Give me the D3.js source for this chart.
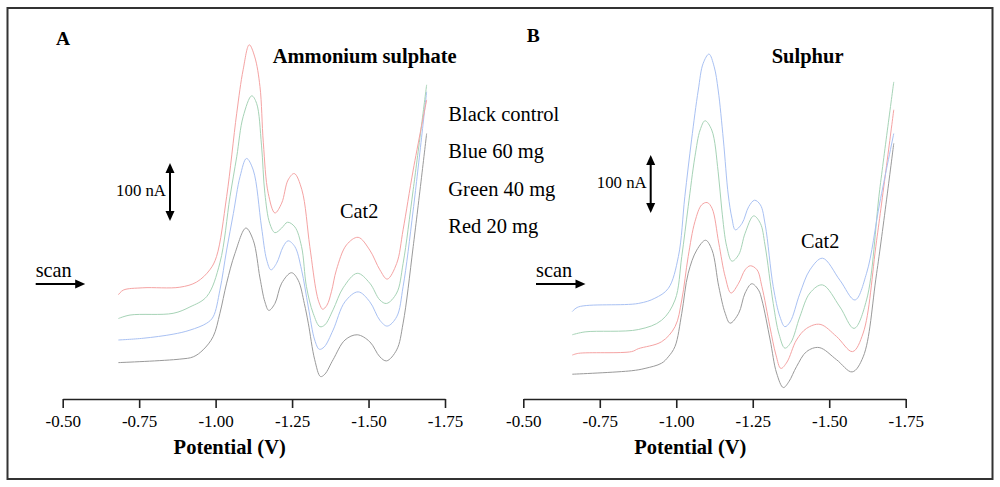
<!DOCTYPE html>
<html>
<head>
<meta charset="utf-8">
<script src="https://cdn.jsdelivr.net/npm/d3@7"></script>
<style>
  body { margin: 0; background: #fff; }
  svg { display: block; }
</style>
</head>
<body>
<svg id="chart" width="1000" height="487"></svg>
<script>
// potential (V), current (nA, arbitrary zero)
const aBlack = [[-0.682,61],[-0.883,67],[-0.927,71],[-0.959,83],[-0.992,106],[-1.014,146],[-1.036,198],[-1.063,249],[-1.099,293],[-1.123,272],[-1.145,207],[-1.161,166],[-1.174,151],[-1.194,163],[-1.216,198],[-1.248,216],[-1.270,203],[-1.290,163],[-1.303,129],[-1.324,66],[-1.343,37],[-1.357,41],[-1.384,66],[-1.423,100],[-1.463,109],[-1.504,97],[-1.537,71],[-1.559,64],[-1.592,83],[-1.613,129],[-1.646,261],[-1.690,456]];
const aBlue = [[-0.682,100],[-0.763,103],[-0.861,110],[-0.916,117],[-0.971,129],[-0.992,140],[-1.014,186],[-1.036,255],[-1.058,318],[-1.080,382],[-1.101,413],[-1.123,393],[-1.150,295],[-1.167,238],[-1.181,221],[-1.199,232],[-1.221,261],[-1.237,271],[-1.259,261],[-1.281,221],[-1.303,157],[-1.324,100],[-1.339,84],[-1.355,88],[-1.384,117],[-1.423,166],[-1.466,183],[-1.504,166],[-1.537,134],[-1.561,124],[-1.592,140],[-1.613,192],[-1.646,324],[-1.690,528]];
const aGreen = [[-0.682,137],[-0.720,143],[-0.861,146],[-0.916,157],[-0.971,175],[-1.014,233],[-1.047,347],[-1.069,416],[-1.090,485],[-1.118,521],[-1.134,508],[-1.150,436],[-1.161,353],[-1.177,301],[-1.194,285],[-1.216,293],[-1.235,303],[-1.259,295],[-1.281,261],[-1.297,192],[-1.319,146],[-1.341,123],[-1.357,126],[-1.384,152],[-1.417,190],[-1.463,215],[-1.504,198],[-1.537,169],[-1.559,163],[-1.592,181],[-1.613,232],[-1.646,359],[-1.690,540]];
const aRed = [[-0.682,178],[-0.698,186],[-0.762,190],[-0.883,191],[-0.938,200],[-0.981,221],[-1.003,244],[-1.036,347],[-1.069,491],[-1.090,566],[-1.110,609],[-1.128,588],[-1.145,537],[-1.156,440],[-1.172,353],[-1.194,319],[-1.216,336],[-1.237,376],[-1.257,387],[-1.282,359],[-1.308,261],[-1.330,181],[-1.340,162],[-1.350,153],[-1.364,160],[-1.379,184],[-1.395,221],[-1.428,264],[-1.466,277],[-1.504,255],[-1.537,221],[-1.561,205],[-1.592,232],[-1.613,290],[-1.646,393],[-1.690,514]];

const bBlack = [[-0.660,41],[-0.854,47],[-0.898,51],[-0.952,60],[-0.974,71],[-0.996,89],[-1.018,146],[-1.039,215],[-1.067,255],[-1.096,272],[-1.117,255],[-1.139,192],[-1.160,146],[-1.176,129],[-1.204,146],[-1.225,181],[-1.247,197],[-1.269,186],[-1.280,169],[-1.307,100],[-1.328,43],[-1.350,18],[-1.368,28],[-1.393,54],[-1.426,80],[-1.467,87],[-1.524,66],[-1.575,45],[-1.611,71],[-1.655,215],[-1.711,439]];
const bBlue = [[-0.660,149],[-0.680,157],[-0.876,163],[-0.930,172],[-0.974,189],[-1.007,244],[-1.028,347],[-1.050,445],[-1.072,531],[-1.088,577],[-1.107,593],[-1.124,571],[-1.137,531],[-1.154,445],[-1.170,350],[-1.182,310],[-1.193,290],[-1.215,301],[-1.237,330],[-1.256,341],[-1.275,333],[-1.291,298],[-1.317,192],[-1.339,140],[-1.355,123],[-1.372,131],[-1.404,180],[-1.437,221],[-1.478,241],[-1.535,203],[-1.584,169],[-1.622,215],[-1.665,336],[-1.711,456]];
const bGreen = [[-0.660,109],[-0.702,114],[-0.876,118],[-0.952,134],[-0.996,169],[-1.018,244],[-1.039,330],[-1.061,416],[-1.078,462],[-1.094,478],[-1.116,462],[-1.137,390],[-1.149,324],[-1.165,261],[-1.182,236],[-1.204,247],[-1.225,284],[-1.253,314],[-1.275,301],[-1.290,264],[-1.317,163],[-1.336,110],[-1.355,86],[-1.375,96],[-1.404,140],[-1.437,181],[-1.478,195],[-1.535,157],[-1.581,120],[-1.622,169],[-1.665,359],[-1.711,545]];
const bRed = [[-0.660,74],[-0.680,77],[-0.854,80],[-0.876,85],[-0.952,97],[-0.996,123],[-1.018,169],[-1.039,244],[-1.061,304],[-1.083,333],[-1.101,337],[-1.117,327],[-1.139,267],[-1.160,209],[-1.179,181],[-1.204,198],[-1.225,221],[-1.242,228],[-1.264,221],[-1.280,192],[-1.306,123],[-1.326,74],[-1.342,51],[-1.362,62],[-1.393,100],[-1.426,120],[-1.470,127],[-1.524,106],[-1.576,80],[-1.611,112],[-1.655,272],[-1.711,497]];

const tickValues = [-0.50, -0.75, -1.00, -1.25, -1.50, -1.75];
const tickLabels = ['-0.50', '-0.75', '-1.00', '-1.25', '-1.50', '-1.75'];
const legendLabels = ['Black control', 'Blue 60 mg', 'Green 40 mg', 'Red 20 mg'];

const serif = "'Liberation Serif', 'Times New Roman', serif";
const colors = { black: '#9a9a9a', blue: '#a9c1f3', green: '#a6d3b6', red: '#f5a3a3' };

const svg = d3.select('#chart');

// outer frame
svg.append('rect')
    .attr('x', 7.5).attr('y', 8)
    .attr('width', 985).attr('height', 471)
    .attr('fill', 'none')
    .attr('stroke', '#333')
    .attr('stroke-width', 2);

const axisY = 399;
// 100 nA spans 58 px in the figure
const y = d3.scaleLinear().domain([0, 650]).range([398, 398 - 6.5 * 58]);

const panels = [
    {
        letter: 'A', letterX: 56, letterY: 45,
        title: 'Ammonium sulphate', titleX: 272.7,
        left: 62.7, right: 445,
        series: [[aBlack, colors.black], [aBlue, colors.blue], [aGreen, colors.green], [aRed, colors.red]],
        barX: 170, barTop: 163, barLabelY: 196,
        scanX: 35.7,
        catX: 340, catY: 218.3,
        legend: true
    },
    {
        letter: 'B', letterX: 526.7, letterY: 42,
        title: 'Sulphur', titleX: 771.7,
        left: 523.3, right: 905.7,
        series: [[bBlack, colors.black], [bRed, colors.red], [bGreen, colors.green], [bBlue, colors.blue]],
        barX: 650.7, barTop: 155, barLabelY: 187.7,
        scanX: 536,
        catX: 801, catY: 248.3,
        legend: false
    }
];

function arrowHead(g, tipX, tipY, dir) {
    // dir: 'up', 'down', 'right'
    const L = 10, W = 4.5;
    let pts;
    if (dir === 'up') pts = [[tipX, tipY], [tipX - W, tipY + L], [tipX + W, tipY + L]];
    else if (dir === 'down') pts = [[tipX, tipY], [tipX - W, tipY - L], [tipX + W, tipY - L]];
    else pts = [[tipX, tipY], [tipX - L, tipY - W], [tipX - L, tipY + W]];
    g.append('path')
        .attr('d', 'M' + pts.map(p => p.join(',')).join('L') + 'Z')
        .attr('fill', '#000');
}

panels.forEach(p => {
    const g = svg.append('g');
    const x = d3.scaleLinear().domain([-0.5, -1.75]).range([p.left, p.right]);

    const line = d3.line()
        .x(d => x(d[0]))
        .y(d => y(d[1]))
        .curve(d3.curveCatmullRom.alpha(0.5));

    p.series.forEach(([data, color]) => {
        g.append('path')
            .datum(data)
            .attr('d', line)
            .attr('fill', 'none')
            .attr('stroke', color)
            .attr('stroke-width', 1);
    });

    const axis = d3.axisBottom(x)
        .tickValues(tickValues)
        .tickFormat((d, i) => tickLabels[i])
        .tickSizeInner(9)
        .tickSizeOuter(0)
        .tickPadding(7);

    const ax = g.append('g')
        .attr('transform', `translate(0,${axisY})`)
        .call(axis);
    ax.select('.domain').attr('stroke', '#222').attr('stroke-width', 1.6);
    ax.selectAll('.tick line').attr('stroke', '#222').attr('stroke-width', 1.6);
    ax.selectAll('.tick text')
        .attr('font-family', serif)
        .attr('font-size', 17)
        .attr('fill', '#000');

    g.append('text')
        .attr('x', x(-1.046)).attr('y', 454)
        .attr('text-anchor', 'middle')
        .attr('font-family', serif).attr('font-weight', 'bold').attr('font-size', 20.5)
        .text('Potential (V)');

    g.append('text')
        .attr('x', p.letterX).attr('y', p.letterY)
        .attr('font-family', serif).attr('font-weight', 'bold').attr('font-size', 19.5)
        .text(p.letter);

    g.append('text')
        .attr('x', p.titleX).attr('y', 62.5)
        .attr('font-family', serif).attr('font-weight', 'bold').attr('font-size', 20.5)
        .text(p.title);

    // 100 nA scale bar
    const barBottom = p.barTop + 58;
    g.append('line')
        .attr('x1', p.barX).attr('x2', p.barX)
        .attr('y1', p.barTop + 6).attr('y2', barBottom - 6)
        .attr('stroke', '#000').attr('stroke-width', 2);
    arrowHead(g, p.barX, p.barTop, 'up');
    arrowHead(g, p.barX, barBottom, 'down');
    g.append('text')
        .attr('x', p.barX - 4).attr('y', p.barLabelY)
        .attr('text-anchor', 'end')
        .attr('font-family', serif).attr('font-size', 16.8)
        .text('100 nA');

    // scan direction
    g.append('text')
        .attr('x', p.scanX).attr('y', 277.3)
        .attr('font-family', serif).attr('font-size', 20.3)
        .text('scan');
    g.append('line')
        .attr('x1', p.scanX).attr('x2', p.scanX + 42)
        .attr('y1', 284).attr('y2', 284)
        .attr('stroke', '#000').attr('stroke-width', 2);
    arrowHead(g, p.scanX + 49.5, 284, 'right');

    g.append('text')
        .attr('x', p.catX).attr('y', p.catY)
        .attr('font-family', serif).attr('font-size', 20.3)
        .text('Cat2');

    if (p.legend) {
        g.selectAll('.legend')
            .data(legendLabels)
            .join('text')
            .attr('x', 448.3)
            .attr('y', (d, i) => 120.7 + i * 37.5)
            .attr('font-family', serif).attr('font-size', 20.5)
            .text(d => d);
    }
});
</script>
</body>
</html>
